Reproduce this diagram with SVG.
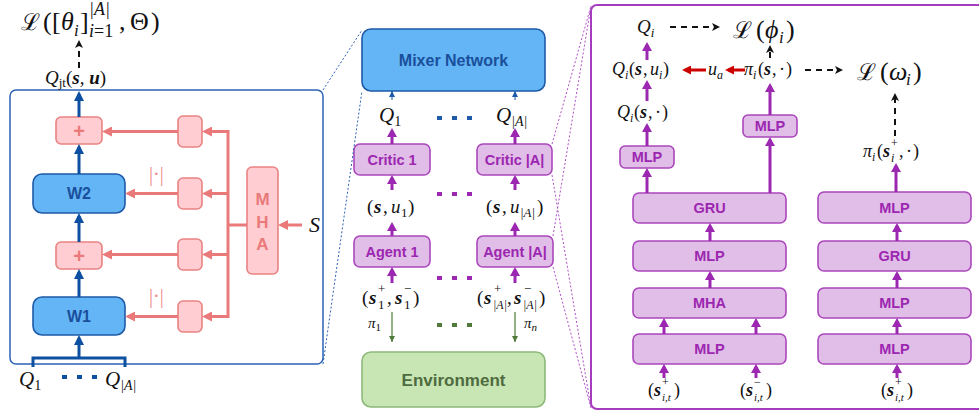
<svg xmlns="http://www.w3.org/2000/svg" width="979" height="414" viewBox="0 0 979 414">
  <style>
    .m { font-family: "Liberation Serif", "DejaVu Serif", serif; font-style: italic; fill: #111; }
    .r { font-style: normal; }
    .b { font-weight: bold; }
    .cal { font-family: "DejaVu Serif", serif; font-style: normal; font-size: 23px; }
    .lbl { font-family: "Liberation Sans", Arial, sans-serif; font-weight: bold; text-anchor: middle; }
    .blueBox { fill: #64b5f6; stroke: #1e5aa8; stroke-width: 1.6; }
    .blueTxt { fill: #1a4f9c; font-size: 16px; }
    .pinkBox { fill: #ffcdd2; stroke: #ea8282; stroke-width: 1.6; }
    .pinkTxt { fill: #ea7a7a; }
    .purBox { fill: #e1bee7; stroke: #ab47bc; stroke-width: 1.6; }
    .purTxt { fill: #9c27b0; font-size: 14.5px; }
    .envBox { fill: #c8e6b4; stroke: #8db87a; stroke-width: 1.6; }
    .aB { stroke: #0d4fa0; stroke-width: 3; fill: none; marker-end: url(#hB); }
    .aR { stroke: #ea7a7a; stroke-width: 3; fill: none; marker-end: url(#hR); }
    .aP { stroke: #9c27b0; stroke-width: 3; fill: none; marker-end: url(#hP); }
    .aK { stroke: #111; stroke-width: 2; fill: none; stroke-dasharray: 6 5; marker-end: url(#hK); }
    .aD { stroke: #cc0000; stroke-width: 3; fill: none; marker-end: url(#hD); }
    .aG { stroke: #4f7a3a; stroke-width: 1.2; fill: none; marker-end: url(#hG); }
    .aT { stroke: #1e5aa8; stroke-width: 1; fill: none; marker-end: url(#hT); }
    .zoomB { stroke: #2b62b5; stroke-width: 1; stroke-dasharray: 2 2; fill: none; }
    .zoomP { stroke: #b04fc8; stroke-width: 1; stroke-dasharray: 2 2; fill: none; }
    .dots { stroke-width: 4; stroke-dasharray: 5 10; }
    .abs { font-family: "Liberation Serif", serif; font-size: 20px; fill: #f08a8a; }
  </style>
  <defs>
    <marker id="hB" viewBox="0 0 10 10" markerUnits="userSpaceOnUse" markerWidth="10" markerHeight="10" refX="7" refY="5" orient="auto"><path d="M0,0 L10,5 L0,10 z" fill="#0d4fa0"/></marker>
    <marker id="hR" viewBox="0 0 10 10" markerUnits="userSpaceOnUse" markerWidth="10" markerHeight="10" refX="7" refY="5" orient="auto"><path d="M0,0 L10,5 L0,10 z" fill="#ea7a7a"/></marker>
    <marker id="hP" viewBox="0 0 9 10" markerUnits="userSpaceOnUse" markerWidth="9" markerHeight="10" refX="6" refY="5" orient="auto"><path d="M0,0 L9,5 L0,10 z" fill="#9c27b0"/></marker>
    <marker id="hK" viewBox="0 0 8 8" markerUnits="userSpaceOnUse" markerWidth="8" markerHeight="8" refX="5" refY="4" orient="auto"><path d="M0,0 L8,4 L0,8 L2,4 z" fill="#111"/></marker>
    <marker id="hD" viewBox="0 0 9 9" markerUnits="userSpaceOnUse" markerWidth="9" markerHeight="9" refX="6" refY="4.5" orient="auto"><path d="M0,0 L9,4.5 L0,9 z" fill="#cc0000"/></marker>
    <marker id="hG" viewBox="0 0 6 6" markerUnits="userSpaceOnUse" markerWidth="6" markerHeight="6" refX="6" refY="3" orient="auto"><path d="M0,0 L6,3 L0,6 z" fill="#4f7a3a"/></marker>
    <marker id="hT" viewBox="0 0 6 6" markerUnits="userSpaceOnUse" markerWidth="6" markerHeight="6" refX="6" refY="3" orient="auto"><path d="M0,0 L6,3 L0,6 z" fill="#1e5aa8"/></marker>
  </defs>

  <!-- ===== Mixer detail (left panel) ===== -->
  <g id="mixer-detail">
    <rect x="10" y="90" width="313" height="274" rx="6" fill="none" stroke="#2b62b5" stroke-width="1.5"/>
    <path d="M33,367 V358 H125 V367" fill="none" stroke="#0d4fa0" stroke-width="3"/>
  </g>
  <g id="w1"><rect class="blueBox" x="33" y="297" width="92" height="38" rx="9"/><text class="lbl blueTxt" x="79" y="322">W1</text></g>
  <g id="w2"><rect class="blueBox" x="33" y="174" width="92" height="39" rx="9"/><text class="lbl blueTxt" x="79" y="199">W2</text></g>
  <g id="plus1"><rect class="pinkBox" x="56" y="117" width="46" height="27" rx="5"/><text class="lbl pinkTxt" x="79" y="138" font-size="20">+</text></g>
  <g id="plus2"><rect class="pinkBox" x="56" y="242" width="46" height="27" rx="5"/><text class="lbl pinkTxt" x="79" y="263" font-size="20">+</text></g>
  <g id="hyper1"><rect class="pinkBox" x="178" y="116" width="24" height="31" rx="5"/></g>
  <g id="hyper2"><rect class="pinkBox" x="178" y="178" width="24" height="31" rx="5"/></g>
  <g id="hyper3"><rect class="pinkBox" x="178" y="239" width="24" height="31" rx="5"/></g>
  <g id="hyper4"><rect class="pinkBox" x="178" y="301" width="24" height="31" rx="5"/></g>
  <g id="mha-left">
    <rect class="pinkBox" x="247" y="167" width="31" height="107" rx="5"/>
    <text class="lbl pinkTxt" x="262.5" y="205" font-size="17">M</text>
    <text class="lbl pinkTxt" x="262.5" y="228" font-size="17">H</text>
    <text class="lbl pinkTxt" x="262.5" y="250" font-size="17">A</text>
  </g>

  <!-- ===== Central pipeline ===== -->
  <g id="mixer-network"><rect class="blueBox" x="362" y="29" width="183" height="62" rx="9"/><text class="lbl blueTxt" x="453.5" y="66">Mixer Network</text></g>
  <g id="critic-1"><rect class="purBox" x="354" y="144" width="76" height="31" rx="6"/><text class="lbl purTxt" x="392" y="165">Critic 1</text></g>
  <g id="critic-A"><rect class="purBox" x="477" y="144" width="75" height="31" rx="6"/><text class="lbl purTxt" x="514.5" y="165">Critic |A|</text></g>
  <g id="agent-1"><rect class="purBox" x="354" y="236" width="76" height="31" rx="6"/><text class="lbl purTxt" x="392" y="257">Agent 1</text></g>
  <g id="agent-A"><rect class="purBox" x="477" y="236" width="76" height="31" rx="6"/><text class="lbl purTxt" x="515" y="257">Agent |A|</text></g>
  <g id="environment"><rect class="envBox" x="362" y="352" width="183" height="55" rx="9"/><text class="lbl" x="453.5" y="386" font-size="17" fill="#4e6b3f">Environment</text></g>

  <!-- ===== Agent detail (right panel) ===== -->
  <g id="agent-detail"><rect x="591" y="5" width="400" height="404" rx="6" fill="none" stroke="#a53bbd" stroke-width="2"/></g>
  <g id="mlp-q"><rect class="purBox" x="620" y="146" width="54" height="22" rx="5"/><text class="lbl purTxt" x="647" y="162">MLP</text></g>
  <g id="mlp-pi"><rect class="purBox" x="743" y="115" width="54" height="22" rx="5"/><text class="lbl purTxt" x="770" y="131">MLP</text></g>
  <g id="gru-a"><rect class="purBox" x="633" y="193" width="153" height="30" rx="6"/><text class="lbl purTxt" x="709.5" y="213">GRU</text></g>
  <g id="mlp-a2"><rect class="purBox" x="633" y="241" width="153" height="30" rx="6"/><text class="lbl purTxt" x="709.5" y="261">MLP</text></g>
  <g id="mha-a"><rect class="purBox" x="633" y="288" width="153" height="30" rx="6"/><text class="lbl purTxt" x="709.5" y="308">MHA</text></g>
  <g id="mlp-a1"><rect class="purBox" x="633" y="334" width="153" height="30" rx="6"/><text class="lbl purTxt" x="709.5" y="354">MLP</text></g>
  <g id="mlp-b3"><rect class="purBox" x="818" y="192" width="153" height="31" rx="6"/><text class="lbl purTxt" x="894.5" y="213">MLP</text></g>
  <g id="gru-b"><rect class="purBox" x="818" y="241" width="153" height="30" rx="6"/><text class="lbl purTxt" x="894.5" y="261">GRU</text></g>
  <g id="mlp-b2"><rect class="purBox" x="818" y="288" width="153" height="30" rx="6"/><text class="lbl purTxt" x="894.5" y="308">MLP</text></g>
  <g id="mlp-b1"><rect class="purBox" x="818" y="334" width="153" height="30" rx="6"/><text class="lbl purTxt" x="894.5" y="354">MLP</text></g>

  <!-- ===== Connectors ===== -->
  <g id="connectors">
    <!-- zoom guides -->
    <line class="zoomB" x1="323" y1="90" x2="362" y2="30"/>
    <line class="zoomB" x1="323" y1="364" x2="362" y2="91"/>
    <line class="zoomP" x1="552" y1="144" x2="591" y2="6"/>
    <line class="zoomP" x1="553" y1="236" x2="591" y2="6"/>
    <line class="zoomP" x1="552" y1="175" x2="591" y2="408"/>
    <line class="zoomP" x1="553" y1="267" x2="591" y2="408"/>

    <!-- mixer detail: main path -->
    <line class="aB" x1="79" y1="358" x2="79" y2="338"/>
    <line class="aB" x1="79" y1="297" x2="79" y2="272"/>
    <line class="aB" x1="79" y1="242" x2="79" y2="216"/>
    <line class="aB" x1="79" y1="174" x2="79" y2="147"/>
    <line class="aB" x1="79" y1="117" x2="79" y2="94"/>
    <line class="aK" x1="79" y1="68" x2="79" y2="43"/>

    <!-- mixer detail: hypernetwork branch -->
    <line x1="228" y1="130" x2="228" y2="318" stroke="#ea7a7a" stroke-width="3"/>
    <line x1="228" y1="225" x2="247" y2="225" stroke="#ea7a7a" stroke-width="3"/>
    <line class="aR" x1="302" y1="225" x2="281" y2="225"/>
    <line class="aR" x1="229" y1="131.5" x2="205" y2="131.5"/>
    <line class="aR" x1="229" y1="193.5" x2="205" y2="193.5"/>
    <line class="aR" x1="229" y1="254.5" x2="205" y2="254.5"/>
    <line class="aR" x1="229" y1="316.5" x2="205" y2="316.5"/>
    <line class="aR" x1="178" y1="131.5" x2="105" y2="131.5"/>
    <line class="aR" x1="178" y1="193.5" x2="128" y2="193.5"/>
    <line class="aR" x1="178" y1="254.5" x2="105" y2="254.5"/>
    <line class="aR" x1="178" y1="316.5" x2="128" y2="316.5"/>

    <!-- central pipeline -->
    <line class="aT" x1="392" y1="100" x2="392" y2="91"/>
    <line class="aT" x1="515" y1="100" x2="515" y2="91"/>
    <line class="aP" x1="392" y1="144" x2="392" y2="131"/>
    <line class="aP" x1="515" y1="144" x2="515" y2="131"/>
    <line class="aP" x1="392" y1="190" x2="392" y2="178"/>
    <line class="aP" x1="515" y1="190" x2="515" y2="178"/>
    <line class="aP" x1="392" y1="236" x2="392" y2="225"/>
    <line class="aP" x1="515" y1="236" x2="515" y2="225"/>
    <line class="aP" x1="392" y1="283" x2="392" y2="270"/>
    <line class="aP" x1="515" y1="283" x2="515" y2="270"/>
    <line class="aG" x1="392" y1="312" x2="392" y2="342"/>
    <line class="aG" x1="515" y1="312" x2="515" y2="342"/>
    <line class="dots" stroke="#1e5aa8" x1="437" y1="118" x2="472" y2="118"/>
    <line class="dots" stroke="#9c27b0" x1="437" y1="194" x2="472" y2="194"/>
    <line class="dots" stroke="#9c27b0" x1="437" y1="278" x2="472" y2="278"/>
    <line class="dots" stroke="#4f7a3a" x1="437" y1="325" x2="472" y2="325"/>

    <!-- agent detail -->
    <line class="aP" x1="647" y1="60" x2="647" y2="45"/>
    <line class="aP" x1="647" y1="101" x2="647" y2="83"/>
    <line class="aP" x1="647" y1="146" x2="647" y2="126"/>
    <line class="aP" x1="647" y1="193" x2="647" y2="171"/>
    <line class="aP" x1="770" y1="193" x2="770" y2="140"/>
    <line class="aP" x1="770" y1="115" x2="770" y2="86"/>
    <line class="aP" x1="896" y1="192" x2="896" y2="166"/>
    <line class="aP" x1="710" y1="241" x2="710" y2="226"/>
    <line class="aP" x1="710" y1="288" x2="710" y2="274"/>
    <line class="aP" x1="664" y1="334" x2="664" y2="321"/>
    <line class="aP" x1="756" y1="334" x2="756" y2="321"/>
    <line class="aP" x1="897" y1="241" x2="897" y2="226"/>
    <line class="aP" x1="897" y1="288" x2="897" y2="274"/>
    <line class="aP" x1="897" y1="334" x2="897" y2="321"/>
    <line class="aP" x1="664" y1="378" x2="664" y2="367"/>
    <line class="aP" x1="756" y1="378" x2="756" y2="367"/>
    <line class="aP" x1="897" y1="378" x2="897" y2="367"/>
    <line class="aD" x1="706" y1="70" x2="685" y2="70"/>
    <line class="aD" x1="745" y1="70" x2="728" y2="70"/>
    <line class="aK" x1="670" y1="27" x2="717" y2="27"/>
    <line class="aK" x1="805" y1="70" x2="840" y2="70"/>
    <line class="aK" x1="770" y1="58" x2="770" y2="48"/>
    <line class="aK" x1="895" y1="136" x2="895" y2="96"/>
  </g>

  <!-- ===== Math labels ===== -->
  <g id="labels">
    <!-- loss of the mixing network -->
    <text class="m" font-size="26" y="30"><tspan class="cal" x="21">ℒ</tspan><tspan class="r" x="43">(</tspan><tspan class="r" x="52">[</tspan><tspan x="61">θ</tspan><tspan font-size="17" x="74" y="36">i</tspan><tspan class="r" x="80" y="30">]</tspan><tspan font-size="18" x="89" y="15">|A|</tspan><tspan font-size="18" x="89" y="37">i</tspan><tspan class="r" font-size="18">=1</tspan><tspan class="r" x="119" y="30">,</tspan><tspan class="r" x="130">Θ</tspan><tspan class="r" x="151">)</tspan></text>
    <text class="m" font-size="19" x="45" y="84">Q<tspan class="r" font-size="13" dy="3">jt</tspan><tspan class="r" dy="-3">(</tspan><tspan class="b">s</tspan><tspan class="r">, </tspan><tspan class="b">u</tspan><tspan class="r">)</tspan></text>
    <text class="abs" x="149" y="181">|·|</text>
    <text class="abs" x="149" y="303">|·|</text>
    <text class="m" font-size="22" x="309" y="232">S</text>
    <text class="m" font-size="21" x="19" y="386">Q<tspan class="r" font-size="14" dy="4">1</tspan></text>
    <line class="dots" stroke="#0d4fa0" x1="62" y1="377" x2="97" y2="377"/>
    <text class="m" font-size="21" x="105" y="386">Q<tspan font-size="14" dy="4">|A|</tspan></text>

    <!-- central pipeline -->
    <text class="m" font-size="21" x="379" y="122">Q<tspan class="r" font-size="14" dy="4">1</tspan></text>
    <text class="m" font-size="21" x="496" y="122">Q<tspan font-size="14" dy="4">|A|</tspan></text>
    <text class="m" font-size="19" y="213"><tspan class="r" x="367">(</tspan><tspan class="b" x="374">s</tspan><tspan class="r" x="383">,</tspan><tspan x="391">u</tspan><tspan class="r" font-size="13" x="401" y="217">1</tspan><tspan class="r" x="408" y="213">)</tspan></text>
    <text class="m" font-size="19" y="213"><tspan class="r" x="486">(</tspan><tspan class="b" x="493">s</tspan><tspan class="r" x="502">,</tspan><tspan x="510">u</tspan><tspan font-size="13" x="520" y="217">|A|</tspan><tspan class="r" x="537" y="213">)</tspan></text>
    <text class="m" font-size="19" y="304"><tspan class="r" x="362">(</tspan><tspan class="b" x="369">s</tspan><tspan class="r" font-size="13" x="378" y="293">+</tspan><tspan class="r" font-size="13" x="378" y="309">1</tspan><tspan class="r" x="387" y="304">,</tspan><tspan class="b" x="395">s</tspan><tspan class="r" font-size="13" x="404" y="293">−</tspan><tspan class="r" font-size="13" x="404" y="309">1</tspan><tspan class="r" x="413" y="304">)</tspan></text>
    <text class="m" font-size="19" y="304"><tspan class="r" x="477">(</tspan><tspan class="b" x="484">s</tspan><tspan class="r" font-size="13" x="494" y="293">+</tspan><tspan font-size="12" x="493" y="309">|A|</tspan><tspan class="r" x="507" y="304">,</tspan><tspan class="b" x="514">s</tspan><tspan class="r" font-size="13" x="524" y="293">−</tspan><tspan font-size="12" x="523" y="309">|A|</tspan><tspan class="r" x="539" y="304">)</tspan></text>
    <text class="m" font-size="15" x="368" y="328">π<tspan class="r" font-size="11" dy="3">1</tspan></text>
    <text class="m" font-size="15" x="524" y="328">π<tspan font-size="11" dy="3">n</tspan></text>

    <!-- agent detail -->
    <text class="m" font-size="19" x="637" y="33">Q<tspan font-size="13" dy="4">i</tspan></text>
    <text class="m" font-size="26" y="38"><tspan class="cal" x="733">ℒ</tspan><tspan class="r" x="756">(</tspan><tspan x="765">ϕ</tspan><tspan font-size="17" x="779" y="43">i</tspan><tspan class="r" x="786" y="38">)</tspan></text>
    <text class="m" font-size="18" y="75"><tspan x="612">Q</tspan><tspan font-size="12" x="625" y="79">i</tspan><tspan class="r" x="629" y="75">(</tspan><tspan class="b" x="635">s</tspan><tspan class="r" x="643">,</tspan><tspan x="650">u</tspan><tspan font-size="12" x="659" y="79">i</tspan><tspan class="r" x="663" y="75">)</tspan></text>
    <text class="m" font-size="18" x="708" y="75">u<tspan font-size="12" dy="4">a</tspan></text>
    <text class="m" font-size="18" y="75"><tspan x="744">π</tspan><tspan font-size="12" x="753" y="79">i</tspan><tspan class="r" x="758" y="75">(</tspan><tspan class="b" x="764">s</tspan><tspan class="r" x="772">,</tspan><tspan class="r" x="779">·</tspan><tspan class="r" x="786">)</tspan></text>
    <text class="m" font-size="26" y="80"><tspan class="cal" x="857">ℒ</tspan><tspan class="r" x="880">(</tspan><tspan x="889">ω</tspan><tspan font-size="17" x="906" y="85">i</tspan><tspan class="r" x="913" y="80">)</tspan></text>
    <text class="m" font-size="18" y="118"><tspan x="617">Q</tspan><tspan font-size="12" x="630" y="122">i</tspan><tspan class="r" x="634" y="118">(</tspan><tspan class="b" x="640">s</tspan><tspan class="r" x="648">,</tspan><tspan class="r" x="655">·</tspan><tspan class="r" x="662">)</tspan></text>
    <text class="m" font-size="18" y="157"><tspan x="863">π</tspan><tspan font-size="12" x="872" y="161">i</tspan><tspan class="r" x="877" y="157">(</tspan><tspan class="b" x="883">s</tspan><tspan class="r" font-size="12" x="891" y="147">+</tspan><tspan font-size="12" x="891" y="162">i</tspan><tspan class="r" x="899" y="157">,</tspan><tspan class="r" x="906">·</tspan><tspan class="r" x="913">)</tspan></text>
    <text class="m" font-size="18" y="396"><tspan class="r" x="648">(</tspan><tspan class="b" x="654">s</tspan><tspan class="r" font-size="12" x="662" y="386">+</tspan><tspan font-size="11" x="662" y="401">i,t</tspan><tspan class="r" x="674" y="396">)</tspan></text>
    <text class="m" font-size="18" y="396"><tspan class="r" x="740">(</tspan><tspan class="b" x="746">s</tspan><tspan class="r" font-size="12" x="754" y="386">−</tspan><tspan font-size="11" x="754" y="401">i,t</tspan><tspan class="r" x="766" y="396">)</tspan></text>
    <text class="m" font-size="18" y="396"><tspan class="r" x="881">(</tspan><tspan class="b" x="887">s</tspan><tspan class="r" font-size="12" x="895" y="386">+</tspan><tspan font-size="11" x="895" y="401">i,t</tspan><tspan class="r" x="907" y="396">)</tspan></text>
  </g>
</svg>
